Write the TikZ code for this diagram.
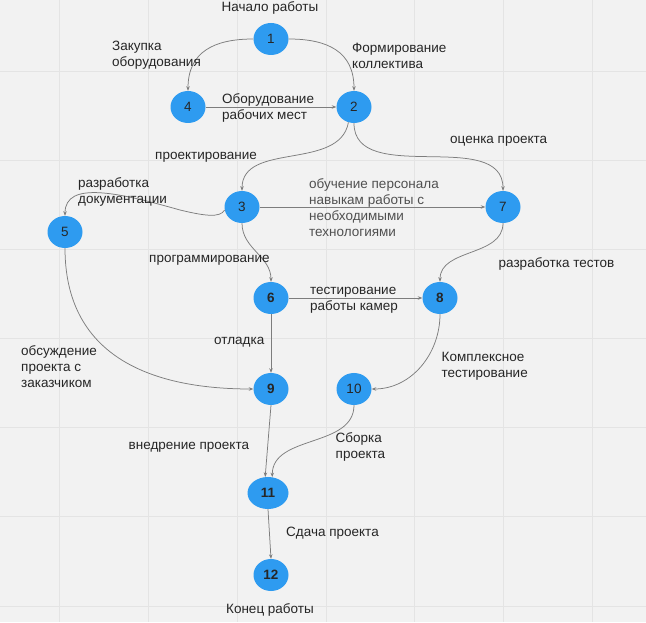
\documentclass[tikz,border=0pt]{standalone}
\usepackage{fontspec}
\setmainfont{Liberation Sans}
\usetikzlibrary{arrows.meta,shapes.geometric}
\definecolor{bgcol}{RGB}{242,242,242}
\definecolor{gridcol}{RGB}{228,228,228}
\definecolor{eventblue}{RGB}{46,155,240}
\definecolor{edgecol}{RGB}{125,125,125}
\definecolor{txtcol}{RGB}{38,38,38}
\definecolor{softtxt}{RGB}{80,80,80}

\begin{document}
\begin{tikzpicture}[x=1pt, y=1pt,
      every node/.style={font=\fontsize{13.5}{16}\selectfont, text=txtcol},
      event/.style={ellipse, fill=eventblue, minimum width=35pt,
        minimum height=32pt, inner sep=0pt},
      keyevent/.style={event, font=\fontsize{13.5}{16}\selectfont\bfseries},
      lbl/.style={anchor=west, align=left, inner sep=0pt},
      arrow/.style={-{Stealth[length=4.5pt,width=3.5pt]}, draw=edgecol,
        line width=0.75pt},
      gridline/.style={draw=gridcol, line width=1pt},
    ]
    % Background and grid
    \fill[bgcol] (0,0) rectangle (646,622);
    \useasboundingbox (0,0) rectangle (646,622);
    \foreach \gx in {59,148,237,326,414,503,592} \draw[gridline] (\gx,0) -- (\gx,622);
    \foreach \gy in {16,105,194,283,372,461,550} \draw[gridline] (0,\gy) -- (646,\gy);
    % Events
    \node[event] (n1) at (271,583) {1};
    \node[event] (n4) at (188,515) {4};
    \node[event] (n2) at (354,515) {2};
    \node[event] (n3) at (242,415) {3};
    \node[event] (n5) at (65,390)  {5};
    \node[event] (n7) at (503,415) {7};
    \node[keyevent] (n6) at (271,324) {6};
    \node[keyevent] (n8) at (440,324) {8};
    \node[keyevent] (n9) at (271,233) {9};
    \node[event] (n10) at (354,233) {10};
    \node[keyevent, minimum width=41pt] (n11) at (268,129) {11};
    \node[keyevent] (n12) at (271,47) {12};
    % Works
    \draw[arrow] (n1.west) to[out=180, in=90, looseness=1.2] (n4.north);
    \draw[arrow] (n1.east) to[out=0, in=90, looseness=1.2] (n2.north);
    \draw[arrow] (n4) -- (n2);
    \draw[arrow] (n2.250) to[out=-100, in=90] (n3.north);
    \draw[arrow] (n2.south) to[out=-90, in=90] (n7.north);
    \draw[arrow] (n3.190) .. controls (220,404) and (205,406) .. (180,412)
      .. controls (120,429) and (65,442) .. (n5.north);
    \draw[arrow] (n3) -- (n7);
    \draw[arrow] (n3.south) to[out=-90, in=90] (n6.north);
    \draw[arrow] (n7.south) to[out=-90, in=90] (n8.north);
    \draw[arrow] (n5.south) to[out=-90, in=180, looseness=1.15] (n9.west);
    \draw[arrow] (n6) -- (n8);
    \draw[arrow] (n6) -- (n9);
    \draw[arrow] (n8.south) to[out=-90, in=0] (n10.east);
    \draw[arrow] (n9.south) -- (n11.100);
    \draw[arrow] (n10.south) to[out=-90, in=90] (n11.75);
    \draw[arrow] (n11.south) -- (n12.north);
    % Labels
    \node (tstart) at (270,614.5) {Начало работы};
    \node (tend) at (270,12) {Конец работы};
    \node[lbl] (t14) at (112,566.5) {Закупка\\оборудования};
    \node[lbl] (t12) at (352,566.5) {Формирование\\коллектива};
    \node[lbl] (t42) at (222,514.5) {Оборудование\\рабочих мест};
    \node[lbl] (t23) at (155,464.5) {проектирование};
    \node[lbl] (t27) at (450,481) {оценка проекта};
    \node[lbl] (t35) at (78,430) {разработка\\документации};
    \node[lbl, text=softtxt] (t37) at (309,414.5) {обучение персонала\\навыкам работы с\\необходимыми\\технологиями};
    \node[lbl] (t36) at (149,362) {программирование};
    \node[lbl] (t78) at (498.5,358) {разработка тестов};
    \node[lbl] (t68) at (310,322) {тестирование\\работы камер};
    \node[lbl] (t69) at (214,280) {отладка};
    \node[lbl] (t59) at (21,255.7) {обсуждение\\проекта с\\заказчиком};
    \node[lbl] (t810) at (441.5,256) {Комплексное\\тестирование};
    \node[lbl] (t911) at (128.5,175) {внедрение проекта};
    \node[lbl] (t1011) at (335.5,175) {Сборка\\проекта};
    \node[lbl] (t1112) at (286,88.5) {Сдача проекта};
  \end{tikzpicture}
\end{document}
